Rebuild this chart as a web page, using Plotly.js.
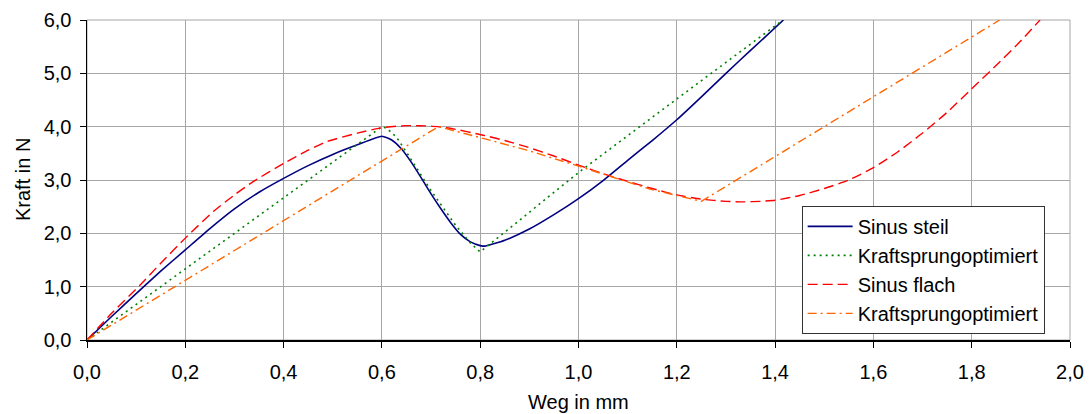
<!DOCTYPE html>
<html>
<head>
<meta charset="utf-8">
<script src="https://cdn.plot.ly/plotly-3.0.1.min.js"></script>
<style>html,body{margin:0;padding:0;background:#fff;}#chart{width:1090px;height:414px;}</style>
</head>
<body>
<div id="chart"></div>
<script>
// Sinus steil
const steilX = [0, 0.05, 0.1, 0.15, 0.2, 0.25, 0.3, 0.35, 0.4, 0.45, 0.5, 0.55, 0.6, 0.62, 0.64, 0.66, 0.68, 0.7, 0.72, 0.74, 0.76, 0.78, 0.8, 0.81, 0.85, 0.9, 0.95, 1.0, 1.05, 1.1, 1.15, 1.2, 1.25, 1.3, 1.35, 1.417];
const steilY = [0, 0.44, 0.87, 1.29, 1.69, 2.09, 2.46, 2.77, 3.03, 3.27, 3.48, 3.66, 3.82, 3.75, 3.58, 3.33, 3.04, 2.74, 2.46, 2.2, 1.98, 1.84, 1.77, 1.76, 1.87, 2.08, 2.35, 2.65, 2.99, 3.37, 3.74, 4.13, 4.56, 5.0, 5.43, 6.0];
// Kraftsprungoptimiert (zu Sinus steil)
const kso1X = [0, 0.6, 0.61, 0.63, 0.65, 0.7, 0.75, 0.78, 0.8, 1.0, 1.2, 1.416];
const kso1Y = [0, 4.0, 3.97, 3.8, 3.52, 2.8, 2.15, 1.82, 1.65, 3.14, 4.52, 6.0];
// Sinus flach
const flachX = [0, 0.05, 0.108, 0.15, 0.2, 0.257, 0.3, 0.338, 0.4, 0.45, 0.488, 0.55, 0.6, 0.65, 0.7, 0.739, 0.806, 0.85, 0.895, 0.95, 1.0, 1.05, 1.091, 1.15, 1.2, 1.25, 1.3, 1.335, 1.37, 1.4, 1.45, 1.5, 1.55, 1.6, 1.65, 1.7, 1.75, 1.8, 1.85, 1.9, 1.939];
const flachY = [0, 0.5, 1.03, 1.44, 1.91, 2.41, 2.72, 2.97, 3.31, 3.56, 3.72, 3.88, 3.98, 4.02, 4.01, 3.97, 3.84, 3.74, 3.62, 3.45, 3.28, 3.12, 3.0, 2.84, 2.72, 2.64, 2.6, 2.59, 2.6, 2.62, 2.71, 2.84, 3.0, 3.23, 3.53, 3.88, 4.27, 4.71, 5.15, 5.61, 6.0];
// Kraftsprungoptimiert (zu Sinus flach)
const kso2X = [0, 0.715, 0.806, 0.895, 1.0, 1.145, 1.25, 1.6, 1.8, 1.857];
const kso2Y = [0, 4.0, 3.78, 3.56, 3.26, 2.83, 2.6, 4.56, 5.67, 6.0];

const names = ['Sinus steil', 'Kraftsprungoptimiert', 'Sinus flach', 'Kraftsprungoptimiert'];
const xTitle = 'Weg in mm';
const yTitle = 'Kraft in N';

const traces = [
  {x: steilX, y: steilY, name: names[0], mode: 'lines', line: {color: '#000080', width: 1.6, shape: 'spline', smoothing: 0.5}},
  {x: kso1X, y: kso1Y, name: names[1], mode: 'lines', line: {color: '#008000', width: 1.6, dash: '2px,4px'}},
  {x: flachX, y: flachY, name: names[2], mode: 'lines', line: {color: '#FF0000', width: 1.4, dash: '10px,5px', shape: 'spline', smoothing: 0.5}},
  {x: kso2X, y: kso2Y, name: names[3], mode: 'lines', line: {color: '#FF6600', width: 1.4, dash: '9px,4px,2px,4px'}}
];

const fam = 'Liberation Sans, Arial, sans-serif';
const tickFont = {family: fam, size: 20, color: '#000'};
const titleFont = {family: fam, size: 20, color: '#000'};

const layout = {
  width: 1090, height: 414,
  margin: {l: 87, r: 20, t: 20, b: 74},
  paper_bgcolor: '#fff', plot_bgcolor: '#fff',
  separators: ',.',
  font: tickFont,
  showlegend: true,
  legend: {x: 0.727, y: 0.419, xanchor: 'left', yanchor: 'top', bgcolor: '#fff', bordercolor: '#333', borderwidth: 1,
           font: {family: fam, size: 20, color: '#000'}, itemwidth: 45, tracegroupgap: 0},
  xaxis: {range: [0, 2.0], dtick: 0.2, tick0: 0, tickformat: '.1f', showgrid: true, gridcolor: '#a6a6a6', gridwidth: 1,
          showline: true, linecolor: '#000', linewidth: 1.5, ticks: 'outside', ticklen: 6, tickcolor: '#000', zeroline: false,
          ticklabelstandoff: 7, tickfont: tickFont, fixedrange: true},
  yaxis: {range: [0, 6.0], dtick: 1, tick0: 0, tickformat: '.1f', showgrid: true, gridcolor: '#a6a6a6', gridwidth: 1,
          showline: true, linecolor: '#000', linewidth: 1.5, ticks: 'outside', ticklen: 6, tickcolor: '#000', zeroline: false,
          ticklabelstandoff: 4, tickfont: tickFont, fixedrange: true},
  annotations: [
    {text: xTitle, xref: 'paper', yref: 'paper', x: 0.5, y: 0, xanchor: 'center', yanchor: 'middle', yshift: -62, showarrow: false, font: titleFont},
    {text: yTitle, xref: 'paper', yref: 'paper', x: 0, y: 0.5, xanchor: 'center', yanchor: 'middle', xshift: -64, textangle: -90, showarrow: false, font: titleFont}
  ],
  shapes: [{type: 'rect', xref: 'paper', yref: 'paper', x0: 0, x1: 1, y0: 0, y1: 1, line: {color: '#a6a6a6', width: 1}, layer: 'below'}]
};

Plotly.newPlot('chart', traces, layout, {displayModeBar: false, staticPlot: true});
</script>
</body>
</html>
